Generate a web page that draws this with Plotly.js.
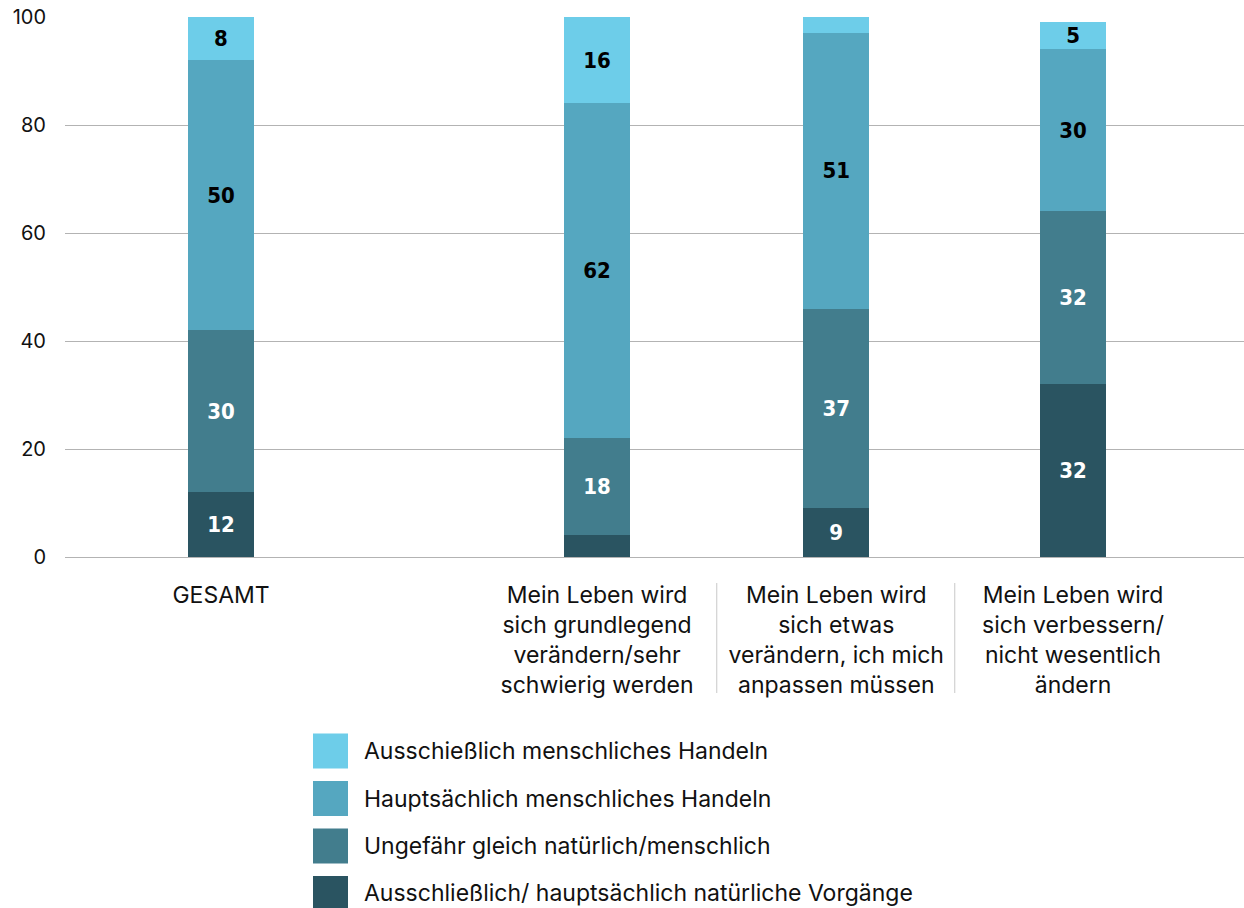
<!DOCTYPE html>
<html>
<head>
<meta charset="utf-8">
<script src="https://cdn.plot.ly/plotly-3.0.1.min.js"></script>
<style>html,body{margin:0;padding:0;background:#fff}#chart{width:1244px;height:908px}</style>
</head>
<body>
<div id="chart"></div>
<script>
// ---- data ----
const categories = [
  "GESAMT",
  "Mein Leben wird<br>sich grundlegend<br>verändern/sehr<br>schwierig werden",
  "Mein Leben wird<br>sich etwas<br>verändern, ich mich<br>anpassen müssen",
  "Mein Leben wird<br>sich verbessern/<br>nicht wesentlich<br>ändern"
];
const seriesNames = [
  "Ausschließlich/ hauptsächlich natürliche Vorgänge",
  "Ungefähr gleich natürlich/menschlich",
  "Hauptsächlich menschliches Handeln",
  "Ausschießlich menschliches Handeln"
];
const natuerlich   = [12, 4, 9, 32];
const ungefaehr    = [30, 18, 37, 32];
const hauptMensch  = [50, 62, 51, 30];
const ausschMensch = [8, 16, 3, 5];
const yTicks = [0, 20, 40, 60, 80, 100];

// ---- layout helpers ----
const slotX = [0, 1.58, 2.585, 3.58];
const colors = ["#2A5461", "#427D8D", "#55A7C0", "#6DCDE9"];
const textColors = ["#ffffff", "#ffffff", "#000000", "#000000"];
const allSeries = [natuerlich, ungefaehr, hauptMensch, ausschMensch];

const traces = allSeries.map((vals, i) => ({
  type: "bar",
  x: slotX,
  y: vals,
  width: 0.277,
  name: seriesNames[i],
  marker: {color: colors[i], line: {width: 0}},
  text: vals.map(v => v >= 5 ? String(v) : ""),
  textposition: "inside",
  insidetextanchor: "middle",
  textangle: 0,
  constraintext: "none",
  textfont: {family: "DejaVu Sans Condensed, DejaVu Sans", stretch: "condensed", size: 22, color: textColors[i], weight: "bold"},
  hoverinfo: "skip",
  showlegend: false
}));

const L = 65, T = 17, W = 1179, H = 540;
const px2x = px => (px - L) / W;
const px2y = py => (T + H - py) / H;

const shapes = [];
const annotations = [];
// separators between category labels
[2.083, 3.083].forEach(xv => {
  shapes.push({type: "line", xref: "x", yref: "paper", x0: xv, x1: xv,
    y0: px2y(583), y1: px2y(693), line: {color: "#c8c8c8", width: 1}});
});
// custom legend (top series first)
for (let k = 0; k < 4; k++) {
  const si = 3 - k;
  const cy = 751 + k * 47.5;
  shapes.push({type: "rect", xref: "paper", yref: "paper",
    x0: px2x(313), x1: px2x(348), y0: px2y(cy + 17.5), y1: px2y(cy - 17.5),
    fillcolor: colors[si], line: {width: 0}});
  annotations.push({xref: "paper", yref: "paper", x: px2x(362), y: px2y(cy),
    xanchor: "left", yanchor: "middle", showarrow: false, text: seriesNames[si],
    font: {family: "Inter", size: 23, color: "#111"}});
}

const layout = {
  width: 1244, height: 908,
  margin: {l: L, r: 0, t: T, b: 908 - T - H, pad: 0},
  paper_bgcolor: "#fff", plot_bgcolor: "#fff",
  barmode: "stack",
  showlegend: false,
  xaxis: {
    range: [(65 - 221) / 238, (1244 - 221) / 238],
    tickvals: slotX, ticktext: categories,
    showgrid: false, zeroline: false, showline: false, ticks: "",
    tickfont: {family: "Inter", size: 23, color: "#111"},
    ticklabelstandoff: 22, fixedrange: true
  },
  yaxis: {
    range: [0, 100], tickvals: yTicks,
    showgrid: true, gridcolor: "#b3b3b3", gridwidth: 1,
    zeroline: true, zerolinecolor: "#b3b3b3", zerolinewidth: 1,
    showline: false, ticks: "",
    tickfont: {family: "Inter", size: 20, color: "#111"},
    ticklabelstandoff: 18, fixedrange: true
  },
  shapes: shapes,
  annotations: annotations
};

Plotly.newPlot("chart", traces, layout, {staticPlot: true, displayModeBar: false});
</script>
</body>
</html>
